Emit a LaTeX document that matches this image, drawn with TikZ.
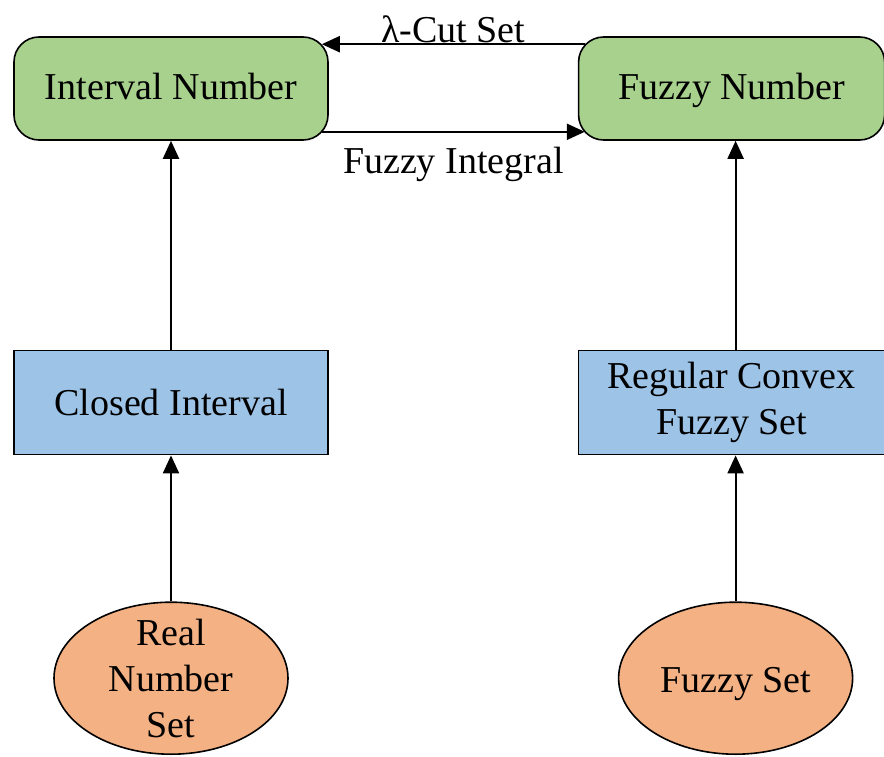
\documentclass[tikz,border=0pt]{standalone}
\usepackage{fontspec}
\setmainfont{Liberation Serif}
\definecolor{mygreen}{RGB}{169,209,142}
\definecolor{myblue}{RGB}{157,195,230}
\definecolor{myorange}{RGB}{244,177,131}
\usetikzlibrary{positioning,shapes,arrows.meta}

\begin{document}
\begin{tikzpicture}[x=1pt,y=-1pt,
    every node/.style={draw,line width=1.6pt,align=center,font=\fontsize{38}{46}\selectfont},
    numnode/.style={fill=mygreen,rounded corners=25pt,minimum height=103pt,text height=25pt,text depth=2pt},
    setnode/.style={fill=myblue,minimum height=104pt},
    basenode/.style={fill=myorange,ellipse,minimum width=234pt,minimum height=152pt,inner ysep=-10pt},
    lbl/.style={draw=none,inner sep=1pt},
    arr/.style={line width=2.2pt,-{Triangle[length=18pt,width=16pt]}}
    ]
    \useasboundingbox (0,0) rectangle (884,757);

    \node (inum) [numnode,minimum width=314pt] at (171,88.5) {Interval Number};
    \node (fnum) [numnode,minimum width=306pt,right=249pt of inum] {Fuzzy Number};
    \node (cint) [setnode,minimum width=314pt,below=209pt of inum] {Closed Interval};
    \node (rcfs) [setnode,minimum width=306pt,below=209pt of fnum] {Regular Convex\\Fuzzy Set};
    \node (rns) [basenode,below=146pt of cint] {Real\\Number\\Set};
    \node (fset) [basenode,text height=28pt,text depth=0pt,below=146pt of rcfs,xshift=4pt] {Fuzzy Set};

    % the edges
    \draw[arr] (rns) -- (cint);
    \draw[arr] (cint) -- (inum);
    \draw[arr] (fset) -- (fset |- rcfs.south);
    \draw[arr] (fset |- rcfs.north) -- (fset |- fnum.south);
    \draw[arr] ([xshift=7pt,yshift=-8pt]fnum.north west)
        -- node[lbl,above]{λ-Cut Set} ([xshift=-7pt,yshift=-8pt]inum.north east);
    \draw[arr] ([xshift=-7pt,yshift=9pt]inum.south east)
        -- node[lbl,below=14pt]{Fuzzy Integral} ([xshift=7pt,yshift=9pt]fnum.south west);
\end{tikzpicture}
\end{document}
